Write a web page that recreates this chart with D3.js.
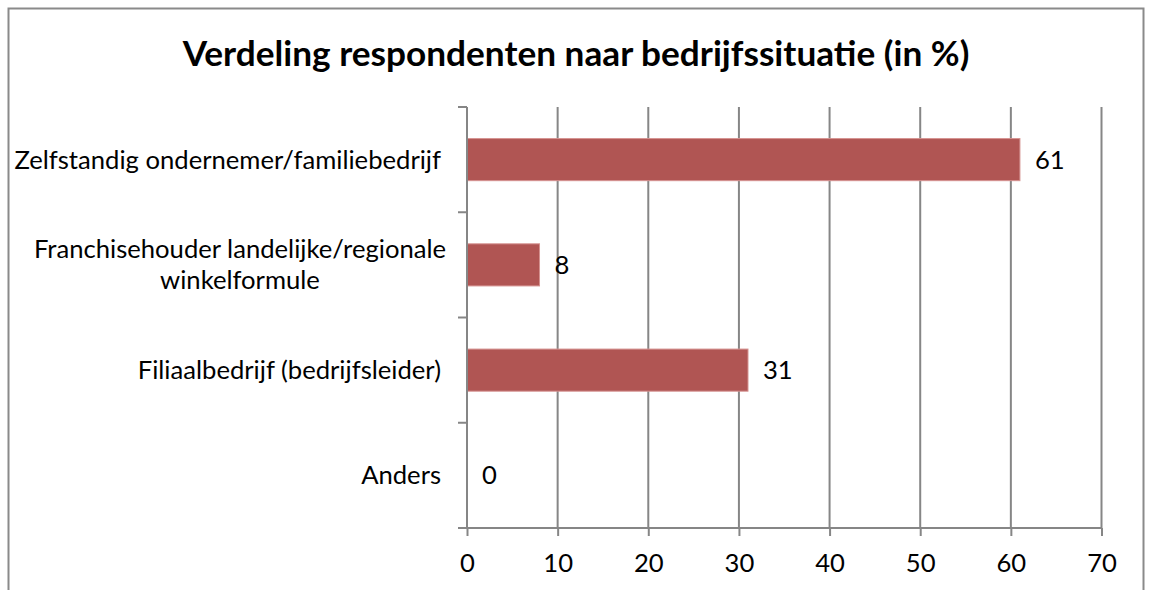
<!DOCTYPE html>
<html>
<head>
<meta charset="utf-8">
<script src="https://cdn.jsdelivr.net/npm/d3@7"></script>
<style>
  body { margin: 0; background: #fff; }
  text { font-family: Lato, "Open Sans", sans-serif; fill: #000; }
</style>
</head>
<body>
<svg id="chart" width="1150" height="590"></svg>
<script>
// data
const categories = [
    ["Zelfstandig ondernemer/familiebedrijf"],
    ["Franchisehouder landelijke/regionale", "winkelformule"],
    ["Filiaalbedrijf (bedrijfsleider)"],
    ["Anders"]
];
const values = [61, 8, 31, 0];
const xTicks = [0, 10, 20, 30, 40, 50, 60, 70];
const title = "Verdeling respondenten naar bedrijfssituatie (in %)";

const svg = d3.select("#chart");
const gridColor = "#868686";

// plot area
const plot = {left: 467, right: 1101.5, top: 107, bottom: 528};

// outer frame
svg.append("rect")
    .attr("x", 8.5).attr("y", 8.5)
    .attr("width", 1135).attr("height", 620)
    .attr("fill", "none")
    .attr("stroke", "#8a8a8a")
    .attr("stroke-width", 2);

// shrink/grow a text to a target width
function fitWidth(sel, target, start) {
    sel.style("font-size", start + "px");
    let w = sel.node().getComputedTextLength();
    let size = start * target / w;
    sel.style("font-size", size + "px");
    return size;
}

const titleText = svg.append("text")
    .attr("x", 576).attr("y", 66)
    .attr("text-anchor", "middle")
    .style("font-weight", "bold")
    .text(title);
fitWidth(titleText, 787, 30);

let x = d3.scaleLinear()
    .domain([0, 70])
    .range([plot.left, plot.right]);

let y = d3.scaleBand()
    .domain(d3.range(categories.length))
    .range([plot.top, plot.bottom])
    .paddingInner(0.6)
    .paddingOuter(0.3);

// measure a label size from the longest label
const probe = svg.append("text").text(categories[0][0]);
const labelSize = fitWidth(probe, 427, 20);
probe.remove();

// vertical grid lines
svg.append("g").selectAll("line")
    .data(xTicks.filter(d => d > 0))
    .enter().append("line")
    .attr("x1", d => x(d)).attr("x2", d => x(d))
    .attr("y1", plot.top).attr("y2", plot.bottom)
    .attr("stroke", gridColor)
    .attr("stroke-width", 2);

// bars
svg.append("g").selectAll("rect")
    .data(values)
    .enter().append("rect")
    .attr("x", x(0))
    .attr("y", (d, i) => y(i))
    .attr("width", d => x(d) - x(0))
    .attr("height", y.bandwidth())
    .attr("fill", "#b05553")
    .attr("stroke", "#d59290")
    .attr("stroke-width", 1)
    .style("display", d => d > 0 ? null : "none");

// value labels
svg.append("g").selectAll("text")
    .data(values)
    .enter().append("text")
    .attr("x", d => x(d) + 15)
    .attr("y", (d, i) => y(i) + y.bandwidth() / 2)
    .attr("dy", "0.35em")
    .style("font-size", labelSize + "px")
    .text(d => d);

// bottom axis
const xAxis = d3.axisBottom(x)
    .tickValues(xTicks)
    .tickSize(8)
    .tickPadding(18);
let gx = svg.append("g")
    .attr("transform", "translate(0," + plot.bottom + ")")
    .call(xAxis);
gx.select(".domain").attr("stroke", gridColor).attr("stroke-width", 2)
    .attr("d", "M" + plot.left + ",0H" + plot.right);
gx.selectAll(".tick line").attr("stroke", gridColor).attr("stroke-width", 2);
gx.selectAll(".tick text")
    .style("font-family", "Lato, 'Open Sans', sans-serif")
    .style("font-size", labelSize + "px")
    .attr("fill", "#000");

// left axis with ticks at band edges
const step = y.step();
const edges = d3.range(categories.length + 1).map(i => plot.top + i * step);
let gy = svg.append("g");
gy.append("line")
    .attr("x1", plot.left).attr("x2", plot.left)
    .attr("y1", plot.top).attr("y2", plot.bottom)
    .attr("stroke", gridColor).attr("stroke-width", 2);
gy.selectAll("line.tick")
    .data(edges)
    .enter().append("line")
    .attr("class", "tick")
    .attr("x1", plot.left - 9).attr("x2", plot.left)
    .attr("y1", d => d).attr("y2", d => d)
    .attr("stroke", gridColor).attr("stroke-width", 2);

// category labels
let lab = svg.append("g").selectAll("text")
    .data(categories)
    .enter().append("text")
    .style("font-size", labelSize + "px");
lab.each(function (d, i) {
    let t = d3.select(this);
    let cy = y(i) + y.bandwidth() / 2;
    let lh = 31;
    if (d.length === 1) {
        t.attr("x", 441).attr("y", cy).attr("dy", "0.35em")
            .attr("text-anchor", "end").text(d[0]);
    } else {
        t.attr("text-anchor", "middle");
        d.forEach((line, k) => {
            t.append("tspan")
                .attr("x", 240)
                .attr("y", cy + (k - (d.length - 1) / 2) * lh)
                .attr("dy", "0.35em")
                .text(line);
        });
    }
});
</script>
</body>
</html>
